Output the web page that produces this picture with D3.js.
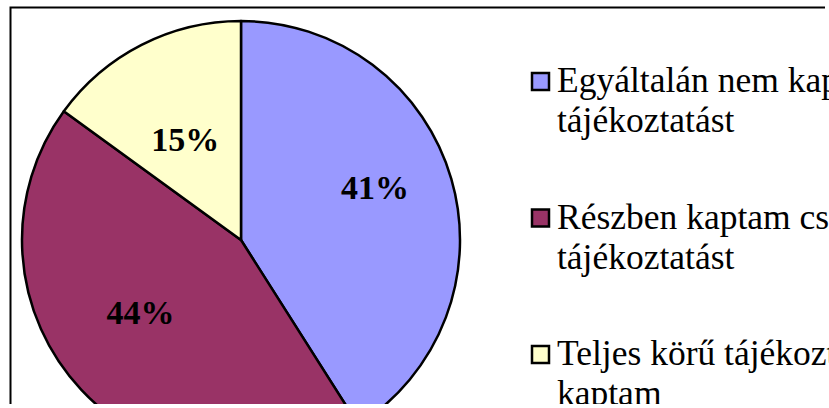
<!DOCTYPE html>
<html>
<head>
<meta charset="utf-8">
<script src="https://cdn.jsdelivr.net/npm/d3@7"></script>
<style>
  html, body { margin: 0; padding: 0; background: #fff; overflow: hidden; }
  svg { display: block; }
</style>
</head>
<body>
<div id="chart"></div>
<script>
// data
const categories = ["Egyáltalán nem kaptam tájékoztatást", "Részben kaptam csak tájékoztatást", "Teljes körű tájékoztatást kaptam"];
const legendLines = [["Egyáltalán nem kaptam", "tájékoztatást"], ["Részben kaptam csak", "tájékoztatást"], ["Teljes körű tájékoztatást", "kaptam"]];
const values = [41, 44, 15];
const colors = ["#9999FF", "#993366", "#FFFFCC"];

const width = 829, height = 408;
const visibleH = 404; // picture is cut just above the bottom edge
const cx = 241, cy = 240, radius = 219;
const font = "'Times New Roman', 'Liberation Serif', serif";
const labelNudge = [[12, -17], [-8, -14], [2, 13]];

const svg = d3.select("#chart").append("svg")
  .attr("width", width)
  .attr("height", height);

svg.append("clipPath").attr("id", "clip")
  .append("rect").attr("x", 0).attr("y", 0).attr("width", width).attr("height", visibleH);

const root = svg.append("g").attr("clip-path", "url(#clip)");

// chart frame (only top and left edges visible)
root.append("path")
  .attr("d", `M10.5,${height}V7.5H825`)
  .attr("fill", "none")
  .attr("stroke", "#000")
  .attr("stroke-width", 2);

const pie = d3.pie().sort(null).value(d => d);
const arcs = pie(values);

const arc = d3.arc().innerRadius(0).outerRadius(radius);
const labelArc = d3.arc().innerRadius(radius * 0.58).outerRadius(radius * 0.58);

const g = root.append("g").attr("transform", `translate(${cx},${cy})`);

g.selectAll("path.slice")
  .data(arcs)
  .enter()
  .append("path")
  .attr("class", "slice")
  .attr("d", arc)
  .attr("fill", (d, i) => colors[i])
  .attr("stroke", "#000")
  .attr("stroke-width", 2.5)
  .attr("stroke-linejoin", "round");

g.selectAll("text.pct")
  .data(arcs)
  .enter()
  .append("text")
  .attr("class", "pct")
  .attr("x", (d, i) => labelArc.centroid(d)[0] + labelNudge[i][0])
  .attr("y", (d, i) => labelArc.centroid(d)[1] + labelNudge[i][1])
  .attr("text-anchor", "middle")
  .attr("dominant-baseline", "central")
  .style("font-family", font)
  .style("font-weight", "bold")
  .style("font-size", "34px")
  .style("fill", "#000")
  .text((d, i) => `${values[i]}%`);

// legend
const legendY = d3.scalePoint().domain(categories).range([92, 365]);

const legend = root.append("g");
categories.forEach((c, i) => {
  const row = legend.append("g").attr("transform", `translate(532,${legendY(c)})`);
  row.append("rect")
    .attr("x", 0)
    .attr("y", -19)
    .attr("width", 17)
    .attr("height", 17)
    .attr("fill", colors[i])
    .attr("stroke", "#000")
    .attr("stroke-width", 2.5);
  const t = row.append("text")
    .attr("x", 25)
    .attr("y", 0)
    .style("font-family", font)
    .style("font-size", "35.5px")
    .style("fill", "#000");
  legendLines[i].forEach((line, j) => {
    t.append("tspan").attr("x", 25).attr("dy", j === 0 ? 0 : 40).text(line);
  });
});
</script>
</body>
</html>
